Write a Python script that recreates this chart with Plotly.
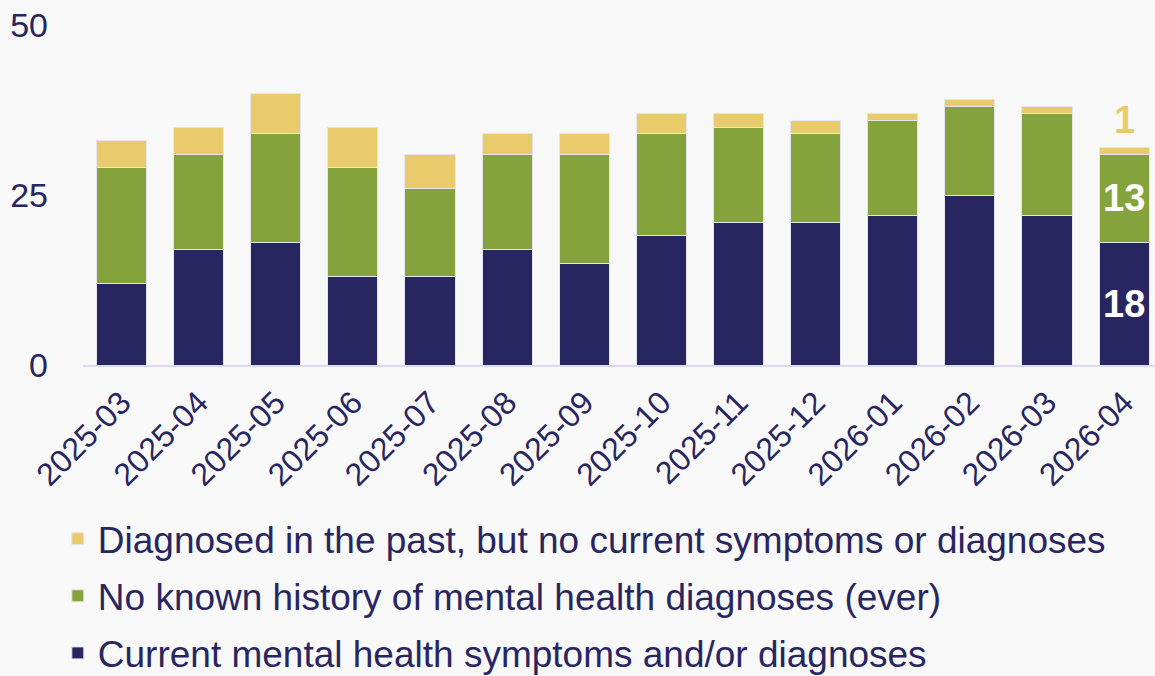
import plotly.graph_objects as go

months = [
    "2025-03", "2025-04", "2025-05", "2025-06", "2025-07", "2025-08", "2025-09",
    "2025-10", "2025-11", "2025-12", "2026-01", "2026-02", "2026-03", "2026-04",
]
current = [12, 17, 18, 13, 13, 17, 15, 19, 21, 21, 22, 25, 22, 18]
no_history = [17, 14, 16, 16, 13, 14, 16, 15, 14, 13, 14, 13, 15, 13]
past_only = [4, 4, 6, 6, 5, 3, 3, 3, 2, 2, 1, 1, 1, 1]

NAVY = "#282661"
GREEN = "#84a33c"
YELLOW = "#eacb6c"
BG = "#f8f8f8"
FONT = "Liberation Sans, Arial, sans-serif"

series = [
    ("Current mental health symptoms and/or diagnoses", current, NAVY),
    ("No known history of mental health diagnoses (ever)", no_history, GREEN),
    ("Diagnosed in the past, but no current symptoms or diagnoses", past_only, YELLOW),
]

fig = go.Figure()
for i, (name, vals, color) in enumerate(series):
    fig.add_trace(
        go.Bar(
            name=name,
            x=months,
            y=vals,
            legendgroup=f"g{i}",
            legendrank=len(series) - i,  # top series listed first
            marker=dict(color=color, line=dict(width=1, color="#e6e4f0")),
        )
    )

# value labels on the last bar
last = months[-1]
fig.add_annotation(
    x=last, y=current[-1] / 2, text=f"<b>{current[-1]}</b>", showarrow=False,
    font=dict(size=38, color="white", family=FONT),
)
fig.add_annotation(
    x=last, y=current[-1] + no_history[-1] / 2, text=f"<b>{no_history[-1]}</b>",
    showarrow=False, font=dict(size=38, color="white", family=FONT),
)
fig.add_annotation(
    x=last, y=current[-1] + no_history[-1] + past_only[-1], text=f"<b>{past_only[-1]}</b>",
    showarrow=False, yanchor="bottom", yshift=4,
    font=dict(size=38, color=YELLOW, family=FONT),
)

fig.update_layout(
    barmode="stack",
    bargap=0.35,
    width=1155,
    height=676,
    paper_bgcolor=BG,
    plot_bgcolor=BG,
    font=dict(family=FONT, color=NAVY, size=30),
    margin=dict(l=83, r=0, t=25, b=311, autoexpand=False),
    showlegend=True,
    legend=dict(
        orientation="v",
        traceorder="grouped",
        x=-0.0235,
        xanchor="left",
        y=-0.421,
        yanchor="top",
        font=dict(size=37, color=NAVY, family=FONT),
        bgcolor="rgba(0,0,0,0)",
        itemwidth=30,
        tracegroupgap=6,
    ),
    xaxis=dict(
        type="category",
        range=[-0.5, 13.4],
        tickangle=-45,
        tickfont=dict(size=32, color=NAVY),
        ticklabelstandoff=4,
        showline=True,
        linecolor="#dcd8ef",
        linewidth=2,
        ticks="",
        showgrid=False,
    ),
    yaxis=dict(
        range=[0, 50],
        tickvals=[0, 25, 50],
        tickfont=dict(size=34, color=NAVY),
        showgrid=False,
        zeroline=False,
        ticks="",
        ticklabelstandoff=34,
    ),
)

fig.write_html(
    "out.html",
    config={"displayModeBar": False},
    post_script="document.body.style.margin='0';",
)
